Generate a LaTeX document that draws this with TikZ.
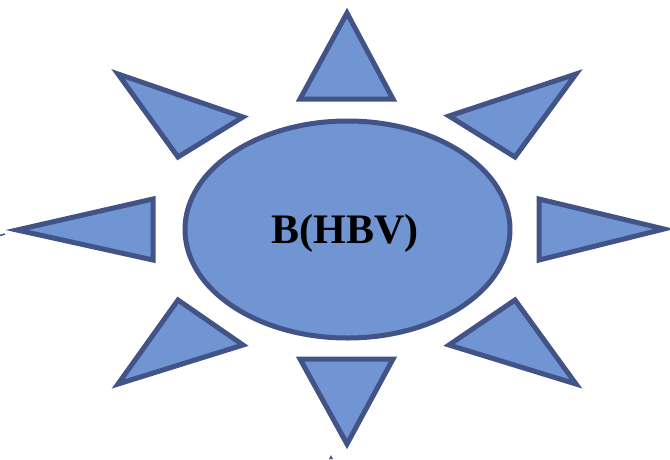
\documentclass[tikz,border=0pt]{standalone}
\usepackage{fontspec}
\setmainfont{Liberation Serif}
\usetikzlibrary{shapes.geometric}
\definecolor{fillblue}{RGB}{112,149,210}
\definecolor{edgeblue}{RGB}{66,84,135}
\tikzset{
  ray/.style={fill=fillblue,draw=edgeblue,line width=5pt,line join=miter},
  core/.style={ellipse,fill=fillblue,draw=edgeblue,line width=5pt,minimum width=325pt,minimum height=217pt,inner sep=0pt}
}
\begin{document}
\begin{tikzpicture}[x=1pt,y=-1pt]
\useasboundingbox (0,0) rectangle (670,459);
% central ellipse
\node[core] (c) at (347.5,229.5) {};
\node[font=\bfseries\fontsize{42}{42}\selectfont,inner sep=0pt] (t) at (345,233) {B(HBV)};
% rays
\draw[ray] (347,13) -- (393,99) -- (300,99) -- cycle;
\draw[ray] (300,359) -- (393,359) -- (347,444) -- cycle;
\draw[ray] (17,230) -- (153,199) -- (153,260) -- cycle;
\draw[ray] (664,229) -- (539,199) -- (539,260) -- cycle;
\draw[ray] (118,74) -- (243,117) -- (178,157) -- cycle;
\draw[ray] (178,300) -- (243,345) -- (118,384) -- cycle;
\draw[ray] (576,74) -- (449,116) -- (515,157) -- cycle;
\draw[ray] (515,300) -- (449,345) -- (576,384) -- cycle;
% small stray marks
\draw[edgeblue,line width=1.5pt] (0,235.5) -- (5,234);
\fill[edgeblue] (329,459) -- (331,455) -- (333,459) -- cycle;
\end{tikzpicture}
\end{document}
